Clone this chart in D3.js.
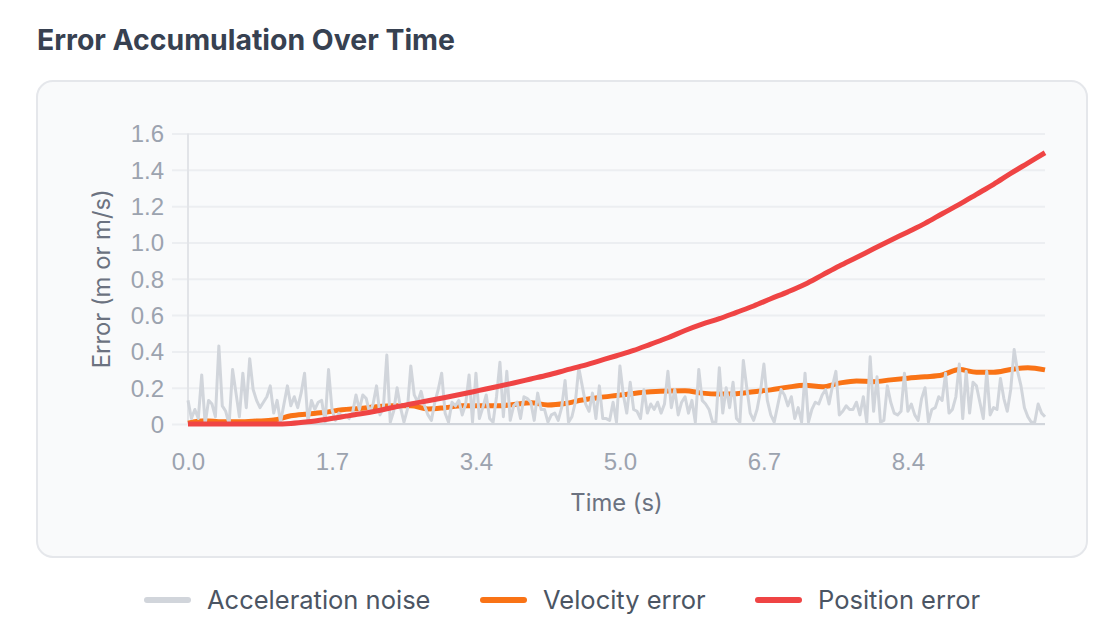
<!DOCTYPE html>
<html>
  <head>
    <meta charset="utf-8" />
    <style>
      body {
        margin: 0;
        background: #ffffff;
        font-family: Inter, "Noto Sans", sans-serif;
      }
      svg {
        display: block;
      }
      .title {
        font-size: 28.4px;
        font-weight: 700;
        fill: #374151;
      }
      .y .tick text,
      .x .tick text {
        font-size: 24px;
        fill: #9ca3af;
      }
      .axis-label {
        font-size: 23.8px;
        fill: #6b7280;
      }
      .legend-text {
        font-size: 25.5px;
        fill: #4b5563;
      }
    </style>
  </head>
  <body>
    <svg width="1104" height="634"></svg>

    <script src="https://d3js.org/d3.v7.min.js"></script>
    <script>
      // acceleration noise, one value every 0.04 s (0 .. 10 s)
      let noise = [
        0.13, 0.03, 0.08, 0.03, 0.27, 0.0, 0.13, 0.11, 0.04, 0.43,
        0.10, 0.07, 0.0, 0.30, 0.17, 0.04, 0.28, 0.09, 0.36, 0.19,
        0.13, 0.09, 0.12, 0.15, 0.21, 0.06, 0.13, 0.01, 0.11, 0.21,
        0.10, 0.15, 0.09, 0.17, 0.28, 0.01, 0.13, 0.08, 0.12, 0.13,
        0.01, 0.30, 0.08, 0.02, 0.06, 0.04, 0.05, 0.03, 0.06, 0.16,
        0.08, 0.16, 0.14, 0.06, 0.11, 0.21, 0.05, 0.09, 0.38, 0.01,
        0.07, 0.20, 0.09, 0.01, 0.08, 0.32, 0.16, 0.12, 0.18, 0.10,
        0.05, 0.02, 0.12, 0.19, 0.28, 0.06, 0.01, 0.12, 0.10, 0.13,
        0.05, 0.11, 0.27, 0.01, 0.28, 0.03, 0.09, 0.16, 0.03, 0.01,
        0.15, 0.34, 0.04, 0.29, 0.02, 0.10, 0.12, 0.03, 0.15, 0.14,
        0.12, 0.02, 0.17, 0.08, 0.08, 0.01, 0.05, 0.06, 0.02, 0.09,
        0.24, 0.01, 0.04, 0.12, 0.31, 0.21, 0.11, 0.07, 0.17, 0.03,
        0.21, 0.03, 0.03, 0.02, 0.12, 0.01, 0.32, 0.16, 0.06, 0.23,
        0.08, 0.07, 0.03, 0.19, 0.06, 0.11, 0.08, 0.12, 0.06, 0.11,
        0.29, 0.09, 0.19, 0.05, 0.12, 0.15, 0.06, 0.13, 0.01, 0.30,
        0.13, 0.11, 0.08, 0.01, 0.01, 0.31, 0.06, 0.20, 0.09, 0.23,
        0.03, 0.01, 0.35, 0.20, 0.06, 0.02, 0.08, 0.18, 0.33, 0.13,
        0.05, 0.01, 0.10, 0.19, 0.16, 0.10, 0.15, 0.03, 0.09, 0.01,
        0.28, 0.01, 0.08, 0.12, 0.11, 0.16, 0.19, 0.11, 0.21, 0.29,
        0.05, 0.07, 0.10, 0.08, 0.08, 0.12, 0.05, 0.15, 0.01, 0.37,
        0.07, 0.26, 0.01, 0.02, 0.21, 0.12, 0.06, 0.05, 0.07, 0.28,
        0.07, 0.11, 0.05, 0.02, 0.14, 0.20, 0.01, 0.08, 0.09, 0.15,
        0.13, 0.28, 0.06, 0.08, 0.15, 0.33, 0.03, 0.29, 0.06, 0.23,
        0.21, 0.12, 0.03, 0.29, 0.05, 0.09, 0.08, 0.25, 0.14, 0.07,
        0.19, 0.41, 0.29, 0.21, 0.09, 0.04, 0.01, 0.01, 0.11, 0.06,
        0.04,
      ];
      let noiseStep = 0.04;

      // velocity and position error, read every 0.2 s
      let velocity = [
        0.005, 0.018, 0.012, 0.012, 0.016, 0.022, 0.045, 0.055, 0.065, 0.078,
        0.085, 0.095, 0.1, 0.1, 0.083, 0.09, 0.1, 0.1, 0.1, 0.107,
        0.117, 0.105, 0.113, 0.132, 0.146, 0.157, 0.168, 0.177, 0.182, 0.183,
        0.17, 0.165, 0.167, 0.178, 0.188, 0.203, 0.213, 0.205, 0.225, 0.237,
        0.233, 0.243, 0.252, 0.26, 0.27, 0.3, 0.285, 0.285, 0.3, 0.31,
        0.298,
      ];
      let position = [
        0, 0, 0, 0, 0, 0, 0.003, 0.012, 0.025, 0.04,
        0.055, 0.072, 0.092, 0.11, 0.128, 0.146, 0.165, 0.185, 0.205, 0.226,
        0.248, 0.27, 0.295, 0.32, 0.348, 0.376, 0.405, 0.44, 0.475, 0.515,
        0.55, 0.58, 0.615, 0.65, 0.69, 0.728, 0.77, 0.82, 0.87, 0.917,
        0.965, 1.012, 1.058, 1.105, 1.158, 1.21, 1.265, 1.32, 1.38, 1.437,
        1.494,
      ];
      let errorStep = 0.2;

      let xTicks = [0, 1.68, 3.36, 5.04, 6.72, 8.4];
      let yTicks = [0, 0.2, 0.4, 0.6, 0.8, 1.0, 1.2, 1.4, 1.6];

      let seriesNames = ["Acceleration noise", "Velocity error", "Position error"];
      let seriesColors = ["#d1d5db", "#f97316", "#ef4444"];

      let svg = d3.select("svg");

      // title + card
      svg
        .append("text")
        .attr("class", "title")
        .attr("x", 37)
        .attr("y", 50)
        .text("Error Accumulation Over Time");

      svg
        .append("rect")
        .attr("x", 37)
        .attr("y", 81)
        .attr("width", 1050)
        .attr("height", 476)
        .attr("rx", 16)
        .attr("fill", "#f9fafb")
        .attr("stroke", "#e5e7eb")
        .attr("stroke-width", 2);

      let margin = { left: 188, right: 1045, top: 133.5, bottom: 424 };

      let x = d3.scaleLinear().domain([0, 10]).range([margin.left, margin.right]);
      let y = d3.scaleLinear().domain([0, 1.6]).range([margin.bottom, margin.top]);

      // grid + y axis
      let yAxis = svg
        .append("g")
        .attr("class", "y axis")
        .attr("transform", `translate(${margin.left}, 0)`)
        .call(
          d3
            .axisLeft(y)
            .tickValues(yTicks)
            .tickSize(-(margin.right - margin.left))
            .tickPadding(0)
            .tickFormat((d) => (d === 0 ? "0" : d3.format(".1f")(d)))
        )
        .call((g) => g.select(".domain").remove());

      yAxis
        .selectAll(".tick line")
        .attr("x1", -16)
        .attr("stroke", "#eceef1")
        .attr("stroke-width", 2);
      yAxis.selectAll(".tick text").attr("x", -24).attr("dy", "0.35em");

      svg
        .append("line")
        .attr("x1", margin.left)
        .attr("x2", margin.left)
        .attr("y1", margin.top)
        .attr("y2", margin.bottom)
        .attr("stroke", "#e2e4e8")
        .attr("stroke-width", 2);

      // x axis
      let xAxis = svg
        .append("g")
        .attr("class", "x axis")
        .attr("transform", `translate(0, ${margin.bottom})`)
        .call(
          d3
            .axisBottom(x)
            .tickValues(xTicks)
            .tickSize(0)
            .tickFormat(d3.format(".1f"))
        );
      xAxis.select(".domain").remove();
      xAxis.selectAll(".tick text").attr("dy", "0").attr("y", 46);

      svg
        .append("line")
        .attr("x1", margin.left)
        .attr("x2", margin.right)
        .attr("y1", margin.bottom)
        .attr("y2", margin.bottom)
        .attr("stroke", "#d1d5db")
        .attr("stroke-width", 2);

      svg
        .append("text")
        .attr("class", "axis-label")
        .attr("x", (margin.left + margin.right) / 2)
        .attr("y", 511)
        .attr("text-anchor", "middle")
        .text("Time (s)");

      svg
        .append("text")
        .attr("class", "axis-label")
        .attr("transform", `translate(110, ${(margin.top + margin.bottom) / 2}) rotate(-90)`)
        .attr("text-anchor", "middle")
        .text("Error (m or m/s)");

      // lines
      let graph = svg.append("g").attr("class", "graph");

      let smooth = d3
        .line()
        .x((d, i) => x(i * errorStep))
        .y((d) => y(d))
        .curve(d3.curveMonotoneX);

      let jagged = d3
        .line()
        .x((d, i) => x(i * noiseStep))
        .y((d) => y(d));

      graph
        .append("path")
        .attr("d", smooth(velocity))
        .attr("fill", "none")
        .attr("stroke", seriesColors[1])
        .attr("stroke-width", 5)
        .attr("stroke-linejoin", "round");

      graph
        .append("path")
        .attr("d", jagged(noise))
        .attr("fill", "none")
        .attr("stroke", seriesColors[0])
        .attr("stroke-width", 3)
        .attr("stroke-linejoin", "round");

      graph
        .append("path")
        .attr("d", smooth(position))
        .attr("fill", "none")
        .attr("stroke", seriesColors[2])
        .attr("stroke-width", 5)
        .attr("stroke-linejoin", "round");

      // legend
      let legendX = [145, 481, 756];
      seriesNames.forEach((name, i) => {
        let g = svg.append("g").attr("transform", `translate(${legendX[i]}, 600)`);
        g.append("line")
          .attr("x1", 2)
          .attr("x2", 43)
          .attr("stroke", seriesColors[i])
          .attr("stroke-width", 6)
          .attr("stroke-linecap", "round");
        g.append("text")
          .attr("class", "legend-text")
          .attr("x", 62)
          .attr("dy", "0.35em")
          .text(name);
      });
    </script>
  </body>
</html>
